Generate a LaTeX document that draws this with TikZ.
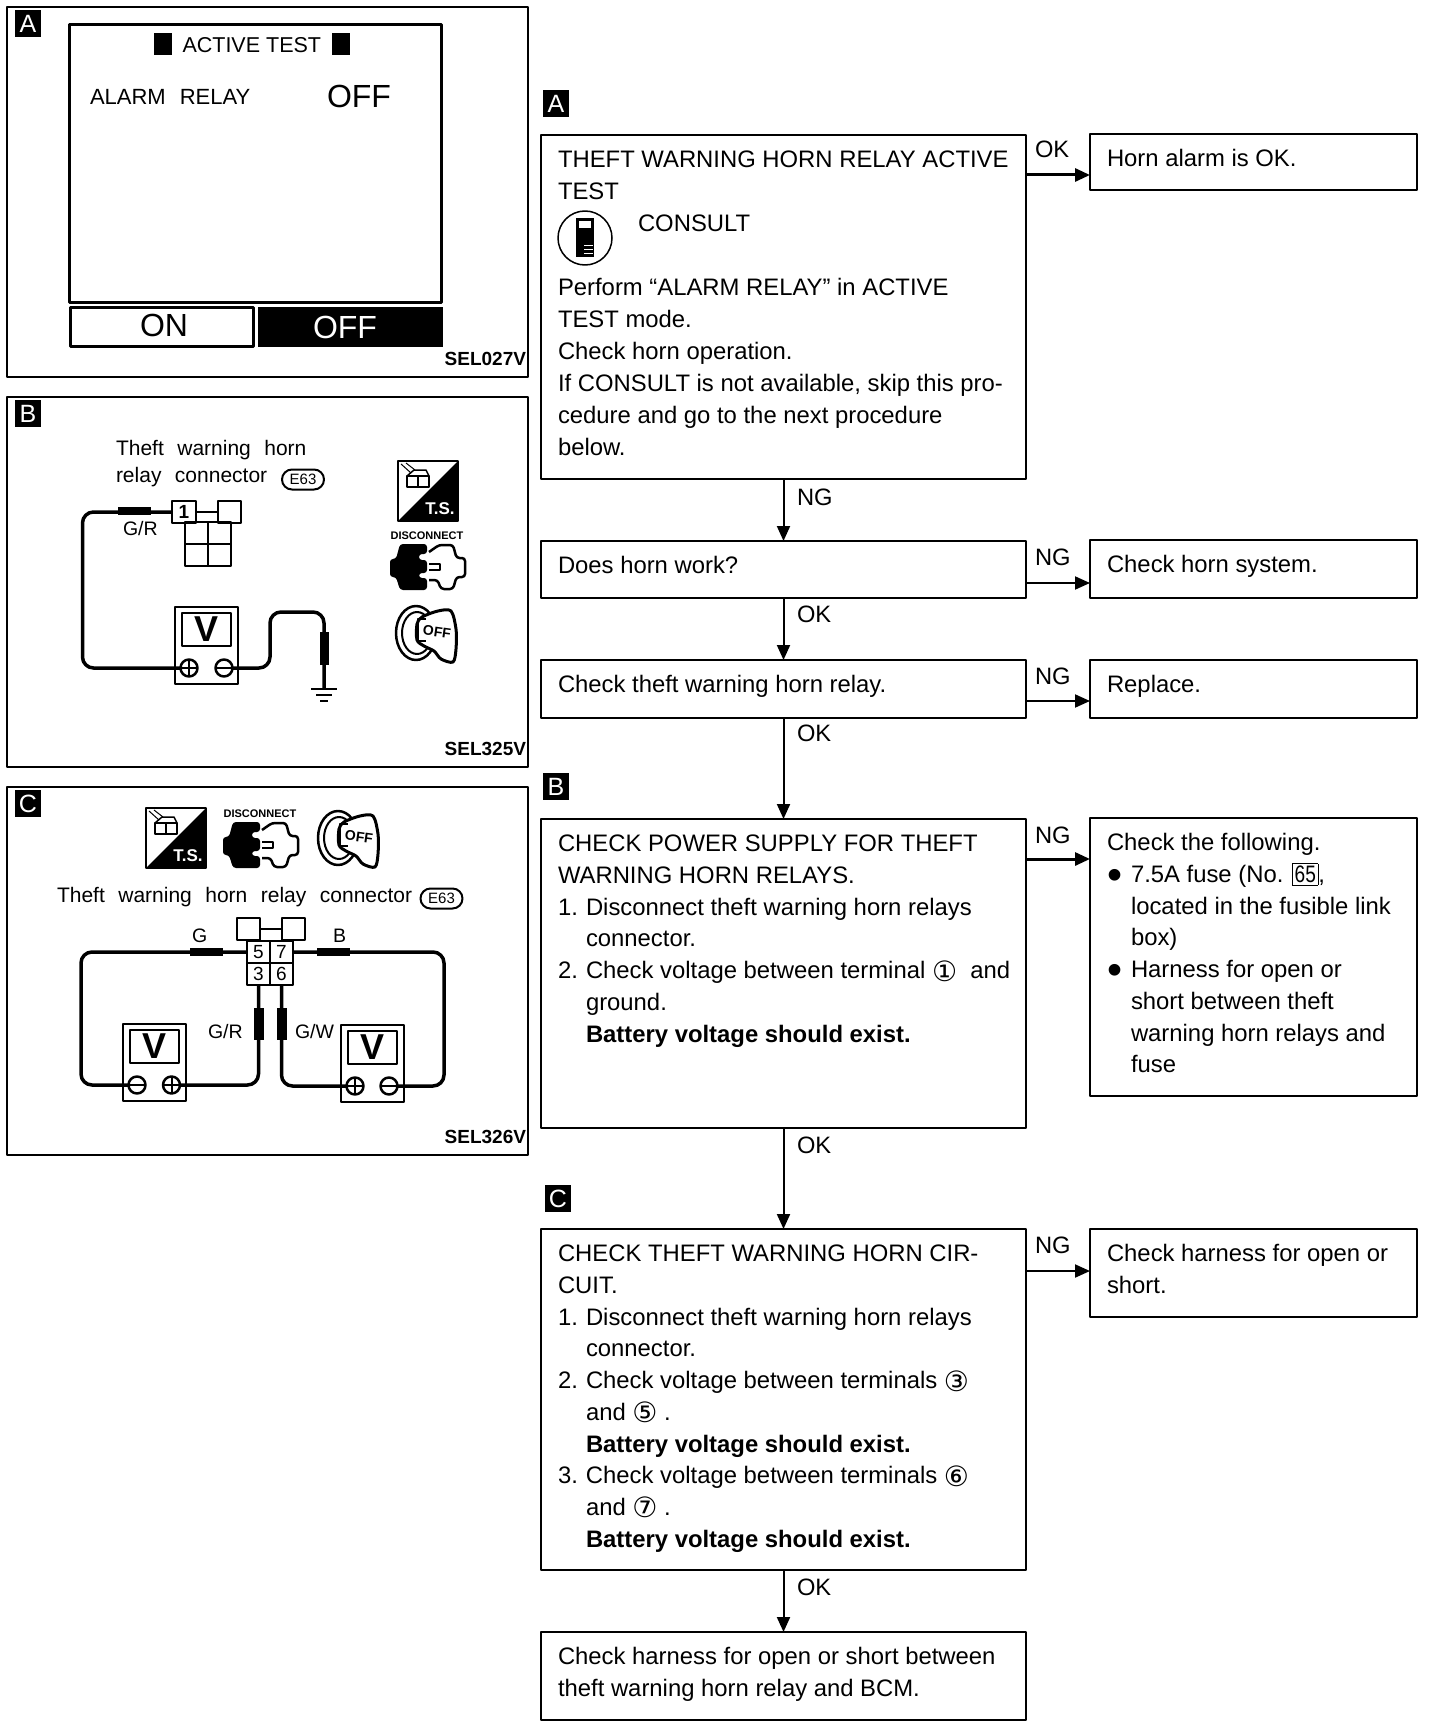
\documentclass[tikz,border=0pt]{standalone}
\usepackage{fontspec}
\setmainfont{Liberation Sans}
\newfontfamily\dejavu{DejaVu Sans}
\usetikzlibrary{arrows.meta,shapes.misc}

\newcommand{\fsz}[1]{\fontsize{#1}{#1}\selectfont}
\newcommand{\widefont}{\fontsize{21}{27}\selectfont\spaceskip=13.5pt\relax}
% text of a flow box: line pitch, width, height, lines
\newcommand{\flowtxt}[4][31.7]{\parbox[c][#3pt][t]{#2pt}{\fontsize{23.85}{#1}\selectfont
  \leftskip=17pt\relax\parindent=0pt\vspace*{10.4pt}\rule{0pt}{22.4pt}#4}}
\newcommand{\itm}[1]{\makebox[28pt][l]{#1}}
\newcommand{\ind}{\hspace*{28pt}}
\newcommand{\bull}{\makebox[24pt][l]{\hspace{0pt}\raisebox{-7pt}{\scalebox{1.8}{\textbullet}}}}
\newcommand{\indr}{\hspace*{24pt}}
\newcommand{\cnum}[1]{\raisebox{-2.5pt}{\dejavu\fontsize{28}{31.7}\selectfont #1}}
% voltmeter: name, x, y, x of plus, x of minus
\newcommand{\vmeter}[5]{
  \node[meterbox] (#1) at (#2,-#3) {};
  \node[meterscr] (#1s) at (#2+7,-#3-6) {\fsz{36}\bfseries V};
  \node[plusT] (#1p) at (#2+#4,-#3-61) {};
  \node[minusT] (#1m) at (#2+#5,-#3-61) {};
}

\tikzset{
  every node/.append style={outer sep=0pt},
  panel/.style={draw,line width=2pt,anchor=north west,minimum width=521pt,inner sep=0pt},
  flowbox/.style={draw,line width=2pt,anchor=north west,inner sep=0pt},
  badge/.style={fill=black,text=white,anchor=north west,inner sep=0pt,minimum width=26pt,minimum height=27pt,font=\fsz{25}},
  lab/.style={anchor=base west,inner sep=0pt,font=\fsz{23.7}},
  txt/.style={anchor=base west,inner sep=0pt},
  code/.style={anchor=base east,inner sep=0pt,font=\fsz{19}\bfseries},
  wire/.style={line width=3.5pt,rounded corners=11pt},
  arr/.style={->,line width=2pt},
  arrh/.style={->,line width=3pt},
  sleeve/.style={fill=black,inner sep=0pt},
  cell/.style={draw,line width=2pt,anchor=north west,inner sep=0pt,minimum width=23pt,minimum height=22pt,font=\fsz{19}},
  oval/.style={rounded rectangle,draw,line width=2pt,inner sep=0pt,minimum width=42pt,minimum height=20pt,font=\fsz{15}},
  meterbox/.style={draw,line width=2.5pt,anchor=north west,inner sep=0pt,minimum width=63pt,minimum height=77pt},
  meterscr/.style={draw,line width=2.5pt,anchor=north west,inner sep=0pt,minimum width=49pt,minimum height=33pt},
  plusT/.style={circle,draw,line width=2.5pt,inner sep=0pt,minimum size=17pt,
    path picture={\draw[line width=2pt] (path picture bounding box.west) -- (path picture bounding box.east)
      (path picture bounding box.north) -- (path picture bounding box.south);}},
  minusT/.style={circle,draw,line width=2.5pt,inner sep=0pt,minimum size=17pt,
    path picture={\draw[line width=2pt] (path picture bounding box.west) -- (path picture bounding box.east);}},
  tsicon/.pic={
    \draw[line width=2pt] (0,0) rectangle (60,-60);
    \fill (60,0) -- (60,-60) -- (0,-60) -- cycle;
    \draw[line width=1.5pt] (9,-15) rectangle (31,-26) (20,-15) -- (20,-26);
    \draw[line width=1.5pt] (9,-15) -- (16,-9) -- (28,-9) -- (31,-15);
    \draw[line width=1pt] (3,-3) -- (13,-12) (8,-2) -- (17,-9);
    \node[text=white,inner sep=0pt,font=\fsz{17}\bfseries] (tsname) at (42,-48) {T.S.};
  },
  plugicon/.pic={
    \node[inner sep=0pt,font=\fsz{11}\bfseries] (dcname) at (37,8) {DISCONNECT};
    \fill[rounded corners=3pt] (37,0) -- (10,0) -- (6,-15) -- (0,-15) -- (0,-33) -- (6,-33) -- (10,-46) -- (37,-46) -- (37,-34)
      -- (29,-34) -- (29,-29) -- (37,-29) -- (37,-16) -- (29,-16) -- (29,-10) -- (37,-10) -- cycle;
    \draw[line width=2.5pt,rounded corners=3pt] (39,-8) -- (49,-1) -- (63,-1) -- (66.5,-14) -- (75,-14) -- (75,-33)
      -- (66.5,-33) -- (63,-45) -- (51,-45) -- (47.5,-36) -- (39,-36);
    \draw[line width=2pt] (39,-20) -- (50,-20) -- (50,-26) -- (39,-26);
  },
  keyicon/.pic={
    \draw[line width=2.5pt] (20,-29) ellipse (20pt and 27pt);
    \draw[line width=2pt] (21,-29) ellipse (15pt and 21pt);
    \draw[line width=3pt,fill=white] plot[smooth cycle] coordinates {(26,-13) (42,-7) (55,-7) (60,-25) (60,-45) (57,-58) (45,-55) (38,-47) (28,-42) (21,-36) (21,-20)};
    \draw[line width=2.5pt] (30,-15) -- (22,-15) -- (22,-37) -- (30,-37);
    \node[inner sep=0pt,font=\fsz{14}\bfseries,rotate=-8] (offname) at (41,-28) {OFF};
  }
}

\begin{document}
\begin{tikzpicture}[
            x = 1pt, y = 1pt,
            > = {Triangle[length=15pt,width=13pt]}, % arrow head style
            line join = round
        ]
\useasboundingbox (0,0) rectangle (1440,-1728);

% panel A
\node[panel,minimum height=370pt] (panelA) at (7,-7) {};
\node[badge] (tagPA) at (15,-10) {A};
\node[draw,line width=3pt,anchor=north west,minimum width=372pt,minimum height=277pt] (screen) at (69,-25) {};
\node[txt,font=\fsz{21.5}] (title) at (154,-53) {\rule[-2pt]{17.5pt}{22pt}\hspace{11pt}ACTIVE TEST\hspace{11pt}\rule[-2pt]{17.5pt}{22pt}};
\node[txt,font=\fsz{22}] (alarm) at (90,-105) {ALARM\hspace{14pt}RELAY};
\node[txt,font=\fsz{32}] (state) at (327,-108) {OFF};
\node[draw,line width=3pt,anchor=north west,minimum width=183pt,minimum height=39pt,inner ysep=0pt,font=\fsz{32}] (onkey) at (70.5,-307) {\hspace{4pt}\raisebox{1.5pt}{ON}};
\node[fill=black,text=white,anchor=north west,minimum width=185pt,minimum height=40pt,inner ysep=0pt,font=\fsz{32}] (offkey) at (258,-307) {OFF\hspace{11pt}\mbox{}};
\node[code] (codeA) at (526,-365) {SEL027V};

% panel B
\node[panel,minimum height=370pt] (panelB) at (7,-397) {};
\node[badge] (tagPB) at (15,-400) {B};
\node[anchor=north west,inner sep=0pt,align=left,font=\widefont] (relayB) at (116,-440) {Theft warning horn\\relay connector};
\node[oval] (e63B) at (303,-479.5) {E63};
\node[cell,minimum width=24pt] (pin1) at (172,-501) {\bfseries 1};
\node[cell] (pin2) at (218,-501) {};
\draw[line width=2pt] (pin1) -- (pin2);
\foreach \i in {0,1} \foreach \j in {0,1}
  \node[cell] (cell\i\j) at (185+\i*23,-522-\j*22) {};
\coordinate (bendB) at (82.5,-600);
\coordinate (bendG) at (270,-612);
\node[txt,font=\fsz{19.5}] (grB) at (123,-535) {G/R};
\vmeter{mB}{175}{607}{14}{49}
\coordinate (gndB) at (324,-689);
\draw[wire] (pin1.west) -| (bendB) |- (mBp.west);
\draw[wire] (mBm.east) -| (bendG) -| (gndB);
\node[sleeve,minimum width=33pt,minimum height=8pt] (slvB) at (134.5,-511) {};
\node[sleeve,minimum width=9pt,minimum height=33pt] (slvG) at (324,-648.5) {};
\foreach \dy/\hw in {0/13,6/8,12/4}
  \draw[line width=2pt] (324-\hw,-689-\dy) -- (324+\hw,-689-\dy);
\pic at (398,-461) {tsicon};
\pic at (390,-544) {plugicon};
\pic at (396,-604) {keyicon};
\node[code] (codeB) at (526,-755) {SEL325V};

% panel C
\node[panel,minimum height=368pt] (panelC) at (7,-787) {};
\node[badge] (tagPC) at (15,-790) {C};
\pic at (146,-808) {tsicon};
\pic at (223,-822) {plugicon};
\pic at (318,-809) {keyicon};
\node[txt,font=\widefont] (relayC) at (57,-902) {Theft warning horn relay connector};
\node[oval] (e63C) at (441.5,-898.5) {E63};
\node[cell] (pinL) at (237,-918) {};
\node[cell] (pinR) at (282,-918) {};
\draw[line width=2pt] (pinL) -- (pinR);
\node[cell] (p5) at (247,-941) {5};
\node[cell] (p7) at (270,-941) {7};
\node[cell] (p3) at (247,-963) {3};
\node[cell] (p6) at (270,-963) {6};
\vmeter{mL}{123}{1024}{48.5}{14}
\vmeter{mR}{341}{1025}{14}{48}
\coordinate (bendL) at (81,-1000);
\coordinate (bendR) at (444,-1000);
\draw[wire] (p5.west) -| (bendL) |- (mLm.west);
\draw[wire] (p7.east) -| (bendR) |- (mRm.east);
\draw[wire] (p3.south) |- (mLp.east);
\draw[wire] (p6.south) |- (mRp.west);
\node[sleeve,minimum width=33pt,minimum height=8pt] (slvL) at (206.5,-952) {};
\node[sleeve,minimum width=33pt,minimum height=8pt] (slvR) at (333.5,-952) {};
\node[sleeve,minimum width=10pt,minimum height=32pt] (slv3) at (258.5,-1024) {};
\node[sleeve,minimum width=10pt,minimum height=32pt] (slv6) at (281.5,-1024) {};
\node[txt,font=\fsz{19.5}] (gC) at (192,-942) {G};
\node[txt,font=\fsz{19.5}] (bC) at (333,-942) {B};
\node[txt,font=\fsz{19.5}] (grC) at (208,-1038) {G/R};
\node[txt,font=\fsz{19.5}] (gwC) at (295,-1038) {G/W};
\node[code] (codeC) at (526,-1143) {SEL326V};

% flow chart
\node[badge] (tagA) at (543,-90) {A};
\node[flowbox] (b1) at (541,-135) {\flowtxt[32]{485}{344}{THEFT WARNING HORN RELAY ACTIVE\\TEST\\\hspace*{80pt}CONSULT\\\mbox{}\\Perform “ALARM RELAY” in ACTIVE\\TEST mode.\\Check horn operation.\\If CONSULT is not available, skip this pro-\\cedure and go to the next procedure\\below.}};
\node[circle,draw,line width=1.5pt,minimum size=54pt,inner sep=0pt] (consult) at (585,-238) {};
\fill (576,-218) rectangle (594,-257);
\fill[white] (579,-221) rectangle (591,-228);
\foreach \sy in {-246,-250,-254} \draw[white,line width=1pt] (584,\sy) -- (593,\sy);
\node[flowbox] (r1) at (1090,-134) {\flowtxt{327}{56}{Horn alarm is OK.}};
\node[flowbox] (b2) at (541,-541) {\flowtxt{485}{57}{Does horn work?}};
\node[flowbox] (r2) at (1090,-540) {\flowtxt{327}{58}{Check horn system.}};
\node[flowbox] (b3) at (541,-660) {\flowtxt{485}{58}{Check theft warning horn relay.}};
\node[flowbox] (r3) at (1090,-660) {\flowtxt{327}{58}{Replace.}};
\node[badge] (tagB) at (543,-773) {B};
\node[flowbox] (b4) at (541,-819) {\flowtxt{485}{309}{CHECK POWER SUPPLY FOR THEFT\\WARNING HORN RELAYS.\\\itm{1.}Disconnect theft warning horn relays\\\ind connector.\\\itm{2.}Check voltage between terminal \cnum{①}\ \ and\\\ind ground.\\\ind\textbf{Battery voltage should exist.}}};
\node[flowbox] (r4) at (1090,-818) {\flowtxt{327}{278}{Check the following.\\\bull 7.5A fuse (No. {\fboxsep=2pt\fbox{\scalebox{0.8}[1]{65}}},\\\indr located in the fusible link\\\indr box)\\\bull Harness for open or\\\indr short between theft\\\indr warning horn relays and\\\indr fuse}};
\node[badge] (tagC) at (545,-1185) {C};
\node[flowbox] (b5) at (541,-1229) {\flowtxt{485}{341}{CHECK THEFT WARNING HORN CIR-\\CUIT.\\\itm{1.}Disconnect theft warning horn relays\\\ind connector.\\\itm{2.}Check voltage between terminals \cnum{③}\\\ind and \cnum{⑤} .\\\ind\textbf{Battery voltage should exist.}\\\itm{3.}Check voltage between terminals \cnum{⑥}\\\ind and \cnum{⑦} .\\\ind\textbf{Battery voltage should exist.}}};
\node[flowbox] (r5) at (1090,-1229) {\flowtxt{327}{88}{Check harness for open or\\short.}};
\node[flowbox] (b6) at (541,-1632) {\flowtxt{485}{88}{Check harness for open or short between\\theft warning horn relay and BCM.}};

\draw[arr] (b1) -- (b2);
\draw[arr] (b2) -- (b3);
\draw[arr] (b3) -- (b4);
\draw[arr] (b4) -- (b5);
\draw[arr] (b5) -- (b6);
\draw[arrh] (b1.east |- 0,-175) -- (r1.west |- 0,-175);
\draw[arr] (b2.east |- 0,-583) -- (r2.west |- 0,-583);
\draw[arr] (b3.east |- 0,-701) -- (r3.west |- 0,-701);
\draw[arrh] (b4.east |- 0,-859) -- (r4.west |- 0,-859);
\draw[arr] (b5.east |- 0,-1271) -- (r5.west |- 0,-1271);

\node[lab] (ok1) at (1035,-158) {OK};
\node[lab] (ng1) at (797,-505) {NG};
\node[lab] (ng2) at (1035,-565) {NG};
\node[lab] (ok2) at (797,-622) {OK};
\node[lab] (ng3) at (1035,-684) {NG};
\node[lab] (ok3) at (797,-741) {OK};
\node[lab] (ng4) at (1035,-843) {NG};
\node[lab] (ok4) at (797,-1153) {OK};
\node[lab] (ng5) at (1035,-1253) {NG};
\node[lab] (ok5) at (797,-1595) {OK};
\end{tikzpicture}
\end{document}
